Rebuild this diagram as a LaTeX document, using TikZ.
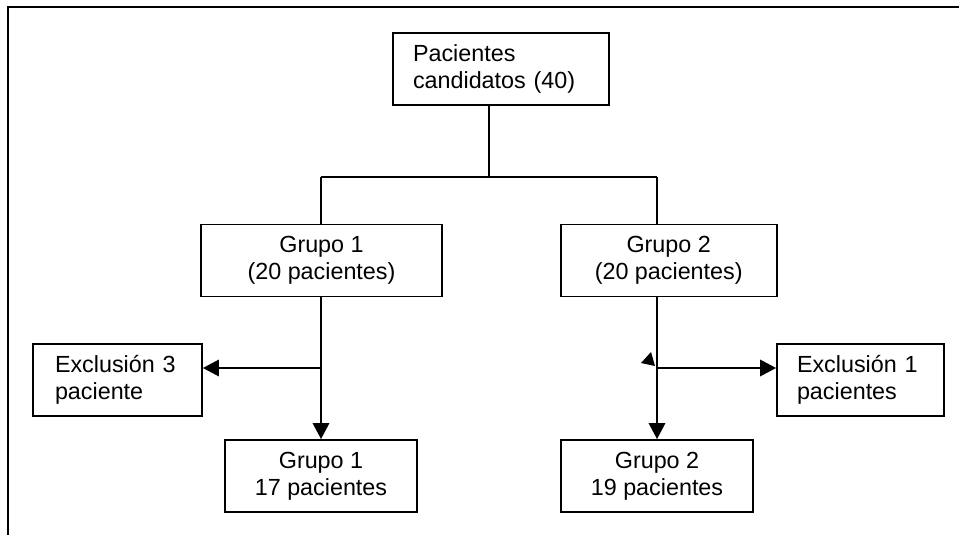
\documentclass[tikz,border=0pt]{standalone}
\usepackage{fontspec}
\setmainfont{Liberation Sans}
\usetikzlibrary{arrows.meta}
\tikzset{
	box/.style={draw, line width=1.2pt, minimum height=54pt, align=center, font=\fontsize{17.5}{20}\selectfont},
	leftbox/.style={box, align=left},
	tree/.style={line width=1pt},
	arr/.style={line width=2.2pt, -{Triangle[length=12pt, width=12pt]}}
}

\begin{document}
\begin{tikzpicture}[x=0.75pt, y=-0.75pt]
			%%%%% START %%%%%
			\useasboundingbox (0, 0) rectangle (959, 535);
			\draw[line width=1.5pt] (8, 535) -- (8, 7) -- (959, 7);
			
			\node[leftbox, text width=132pt, inner xsep=15pt] (cand) at (501, 69) {Pacientes\\candidatos (40)};
			
			\node[box, minimum width=180.75pt] (grupoA) at (321.5, 260.5) {Grupo 1\\(20 pacientes)};
			\node[box, minimum width=162pt] (grupoB) at (668.7, 260.5) {Grupo 2\\(20 pacientes)};
			
			\node[leftbox, text width=93.75pt, inner xsep=16.5pt] (exclA) at (117.5, 380) {Exclusión 3\\paciente};
			\node[leftbox, text width=95.25pt, inner xsep=15pt] (exclB) at (860.5, 380) {Exclusión 1\\pacientes};
			
			\node[box, minimum width=144pt] (finA) at (321, 476) {Grupo 1\\17 pacientes};
			\node[box, minimum width=144pt] (finB) at (657, 476) {Grupo 2\\19 pacientes};
			
			\coordinate (split) at (489, 177);
			\coordinate (splitA) at (321, 177);
			\coordinate (splitB) at (657, 177);
			\draw[tree] (split |- cand.south) -- (split);
			\draw[tree] (splitA) -- (splitB);
			\draw[tree] (splitA) -- (splitA |- grupoA.north);
			\draw[tree] (splitB) -- (splitB |- grupoB.north);
			
			\coordinate (outA) at (321, 368);
			\coordinate (outB) at (657, 368);
			\draw[arr] (outA |- grupoA.south) -- (outA |- finA.north);
			\draw[arr] (outA) -- (exclA.east |- outA);
			\draw[arr] (outB |- grupoB.south) -- (outB |- finB.north);
			\draw[arr] (outB) -- (exclB.west |- outB);
			\fill[shift={(outB)}] (-2, -2) -- (-6, -16) -- (-16, -5) -- cycle;
			%%%%% END %%%%%
		\end{tikzpicture}
\end{document}
